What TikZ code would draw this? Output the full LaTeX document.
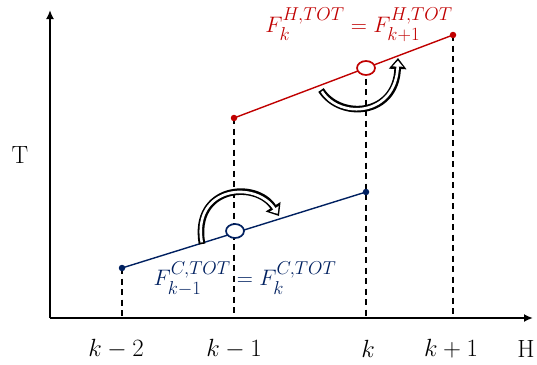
\documentclass[tikz,border=0pt]{standalone}
\usepackage{amsmath,amssymb}
\usetikzlibrary{arrows.meta,positioning,calc,shapes.geometric}
\definecolor{hotRed}{RGB}{192,0,0}
\definecolor{coldBlue}{RGB}{0,32,96}

\begin{document}
\begin{tikzpicture}[x=1pt, y=-1pt, thick,
    dot/.style={circle, fill, inner sep=0pt, minimum size=6.5pt},
    hollow/.style={ellipse, fill=white, line width=1.7pt, inner sep=0pt, minimum width=18pt, minimum height=14pt},
    guide/.style={line width=1.2pt, dash pattern=on 6pt off 4.5pt},
    shaftout/.style={line width=6.6pt, black, -{Triangle[length=11pt,width=17pt]}},
    shaftin/.style={line width=2.6pt, white, shorten <=1.6pt, shorten >=2.6pt, -{Triangle[length=6pt,width=10pt]}},
    lbl/.style={font=\Huge}]
    \useasboundingbox (0,0) rectangle (537,364);
    % axes
    \coordinate (O) at (50,318);
    \coordinate (Ytop) at (50,10);
    \coordinate (Xend) at (533,318);
    \draw[line width=1.8pt, -{Latex[length=9pt,width=8pt]}] (O) -- (Ytop);
    \draw[line width=1.8pt, -{Latex[length=9pt,width=8pt]}] (O) -- (Xend);
    \node[lbl] (Tlab) at (20,155) {T};
    \node[lbl] (Hlab) at (526,349) {H};
    % positions of the points
    \coordinate (c1) at (122,268);
    \coordinate (c2) at (366,192);
    \coordinate (cm) at (235,231);
    \coordinate (h1) at (234,118);
    \coordinate (h2) at (453,35);
    \coordinate (hm) at (366,68);
    % guide lines down to the H axis
    \foreach \p in {c1,h1,hm,h2} {
        \draw[guide] (\p) -- (\p |- O);
    }
    % tick labels
    \foreach \x/\t/\n in {116/k-2/t1, 234/k-1/t2, 368/k/t3, 451/k+1/t4} {
        \node[lbl] (\n) at (\x,349) {$\t$};
    }
    % hot and cold lines
    \draw[hotRed, line width=1.4pt] (h1) -- (h2);
    \draw[coldBlue, line width=1.4pt] (c1) -- (c2);
    \node[dot, hotRed] (H1) at (h1) {};
    \node[dot, hotRed] (H2) at (h2) {};
    \node[hollow, draw=hotRed] (HM) at (hm) {};
    \node[dot, coldBlue] (C1) at (c1) {};
    \node[dot, coldBlue] (C2) at (c2) {};
    \node[hollow, draw=coldBlue] (CM) at (cm) {};
    \node[lbl, hotRed] (Hsum) at (359,25) {\scalebox{0.9}{$F_k^{H,TOT}=F_{k+1}^{H,TOT}$}};
    \node[lbl, coldBlue] (Csum) at (245,279) {\scalebox{0.9}{$F_{k-1}^{C,TOT}=F_k^{C,TOT}$}};
    % shift arrows (outline, then white core)
    \coordinate (ha) at (321,90);
    \coordinate (hb) at (398,58);
    \coordinate (ca) at (202,244);
    \coordinate (cb) at (279,216);
    \foreach \s in {shaftout,shaftin} {
        \draw[\s] (ha) .. controls (340,120) and (396,116) .. (hb);
        \draw[\s] (ca) .. controls (192,186) and (256,180) .. (cb);
    }
\end{tikzpicture}
\end{document}
